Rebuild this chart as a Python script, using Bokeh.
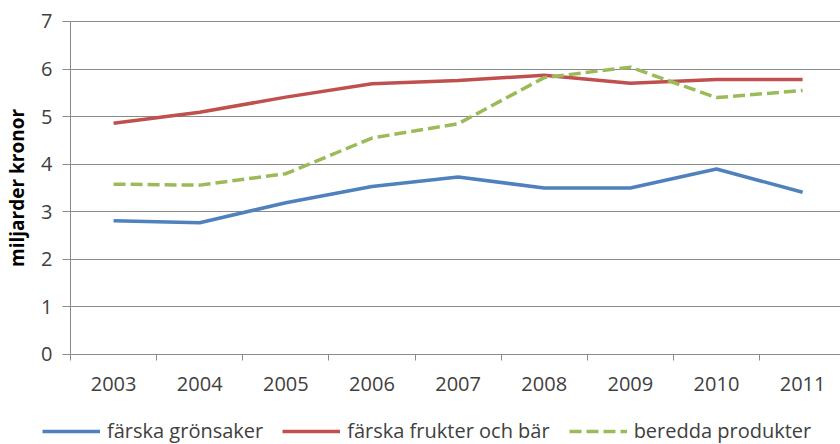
from bokeh.plotting import figure
from bokeh.models import FixedTicker, Legend, LegendItem, Range1d, LinearAxis
from bokeh.embed import file_html
from bokeh.resources import INLINE

years = [2003, 2004, 2005, 2006, 2007, 2008, 2009, 2010, 2011]
gronsaker = [2.81, 2.77, 3.19, 3.53, 3.73, 3.50, 3.50, 3.90, 3.41]
frukter = [4.86, 5.09, 5.41, 5.69, 5.76, 5.87, 5.70, 5.78, 5.78]
beredda = [3.58, 3.56, 3.80, 4.55, 4.85, 5.82, 6.04, 5.40, 5.55]
series_names = ["färska grönsaker", "färska frukter och bär", "beredda produkter"]
y_ticks = [0, 1, 2, 3, 4, 5, 6, 7]

FONT = "Open Sans"
GRID = "#8a8a8a"
TEXT = "#404040"

X0, X1 = 2002.5, 2011.44   # plotted category span
Y0, Y1 = 0, 7

# the frame covers the whole canvas; axes are pinned inside it
p = figure(width=840, height=444, output_backend="svg", toolbar_location=None,
           x_range=Range1d(2001.687, X1), y_range=Range1d(-1.892, 7.441),
           x_axis_location=None, y_axis_location=None,
           min_border_left=0, min_border_right=0, min_border_top=0, min_border_bottom=0)
p.outline_line_color = None
p.background_fill_color = "white"
p.border_fill_color = "white"
p.xgrid.visible = False

xaxis = LinearAxis(fixed_location=Y0, bounds=(X0, X1),
                   ticker=FixedTicker(ticks=years, minor_ticks=[y - 0.5 for y in years] + [years[-1] + 0.5]),
                   major_tick_out=0, major_tick_in=0, minor_tick_out=6, minor_tick_in=0,
                   minor_tick_line_color=GRID, axis_line_color=GRID,
                   major_label_standoff=17, major_label_text_font=FONT,
                   major_label_text_font_size="20px", major_label_text_color=TEXT)
p.add_layout(xaxis, "below")

yaxis = LinearAxis(fixed_location=X0, bounds=(Y0, Y1),
                   ticker=FixedTicker(ticks=y_ticks),
                   major_tick_out=8, major_tick_in=0, minor_tick_out=0, minor_tick_in=0,
                   major_tick_line_color=GRID, axis_line_color=GRID,
                   major_label_standoff=10, major_label_text_font=FONT,
                   major_label_text_font_size="20px", major_label_text_color=TEXT,
                   axis_label="miljarder kronor", axis_label_text_font=FONT,
                   axis_label_text_font_style="bold", axis_label_text_font_size="19px",
                   axis_label_text_color="#000000", axis_label_standoff=8)
p.add_layout(yaxis, "left")

p.ygrid.ticker = FixedTicker(ticks=y_ticks)
p.ygrid.grid_line_color = GRID
p.ygrid.grid_line_width = 1
p.ygrid.bounds = (Y0, Y1)
try:
    p.ygrid.cross_bounds = (X0, X1)
except Exception:
    pass

r1 = p.line(years, gronsaker, line_color="#4F81BD", line_width=3.5)
r2 = p.line(years, frukter, line_color="#C0504D", line_width=3.5)
r3 = p.line(years, beredda, line_color="#9BBB59", line_width=3.5, line_dash="12 5")

legend = Legend(items=[LegendItem(label=series_names[0], renderers=[r1]),
                       LegendItem(label=series_names[1], renderers=[r2]),
                       LegendItem(label=series_names[2], renderers=[r3])],
                orientation="horizontal", location=(42, 0),
                glyph_width=58, glyph_height=20, label_standoff=7, spacing=19,
                label_text_font=FONT, label_text_font_size="20px", label_text_color=TEXT,
                border_line_color=None, background_fill_alpha=0, padding=0, margin=0)
p.add_layout(legend, "center")

open("out.html", "w").write(file_html(p, INLINE))
